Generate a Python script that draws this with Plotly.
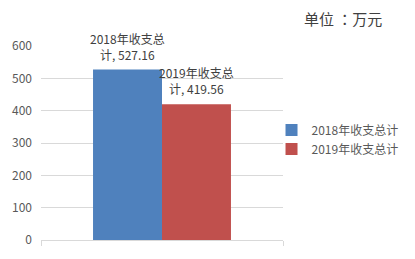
import plotly.graph_objects as go

categories = ["收支总计"]
series_names = ["2018年收支总计", "2019年收支总计"]
values = [527.16, 419.56]
colors = ["#4f81bd", "#c0504d"]
y_ticks = [0, 100, 200, 300, 400, 500, 600]

FONT = "Noto Sans CJK SC"
L, R, T, B = 37, 127, 46, 19
W, H = 415, 259
PW, PH = W - L - R, H - T - B
bargap = 0.43

fig = go.Figure()
n = len(series_names)
bar_w = (1 - bargap) / n
for i, (name, v, c) in enumerate(zip(series_names, values, colors)):
    fig.add_trace(go.Bar(
        x=categories, y=[v], name=name, marker_color=c, marker_line_width=0,
        hoverinfo="name+y",
    ))
    off = -(1 - bargap) / 2 + bar_w * (i + 0.5)
    fig.add_annotation(
        x=off, y=v, xref="x", yref="y",
        text=f"{name[:-1]}<br>{name[-1]}, {v:.2f}",
        showarrow=False, yanchor="bottom", xanchor="center", yshift=5,
        font=dict(size=12, color="#404040", family=FONT),
    )

fig.update_layout(
    width=W, height=H,
    margin=dict(l=L, r=R, t=T, b=B),
    paper_bgcolor="white", plot_bgcolor="white",
    barmode="group", bargap=bargap, bargroupgap=0,
    font=dict(family=FONT, size=12, color="#595959"),
    showlegend=True,
    legend=dict(x=(413 - L) / PW, y=(240 - 139.5) / PH, xanchor="right", yanchor="middle",
                font=dict(size=12, color="#595959", family=FONT),
                bgcolor="rgba(0,0,0,0)", itemwidth=30),
)
fig.update_yaxes(range=[0, 600], tickvals=y_ticks, showgrid=True,
                 gridcolor="#d9d9d9", gridwidth=1, zeroline=False,
                 tickfont=dict(size=12, color="#595959", family=FONT), ticks="",
                 showline=False, ticklabelstandoff=8)
fig.update_xaxes(showticklabels=False, showline=True, linecolor="#d9d9d9",
                 ticks="outside", tickson="boundaries", ticklen=5,
                 tickcolor="#d9d9d9", range=[-0.5, 0.5])
fig.add_annotation(text="单位 ：万元", xref="paper", yref="paper",
                   x=(308 - L) / PW, xanchor="left",
                   y=(240 - 18) / PH, yanchor="middle", showarrow=False,
                   font=dict(size=15, color="#404040", family="Noto Sans CJK TC"))
fig.write_html("out.html")
